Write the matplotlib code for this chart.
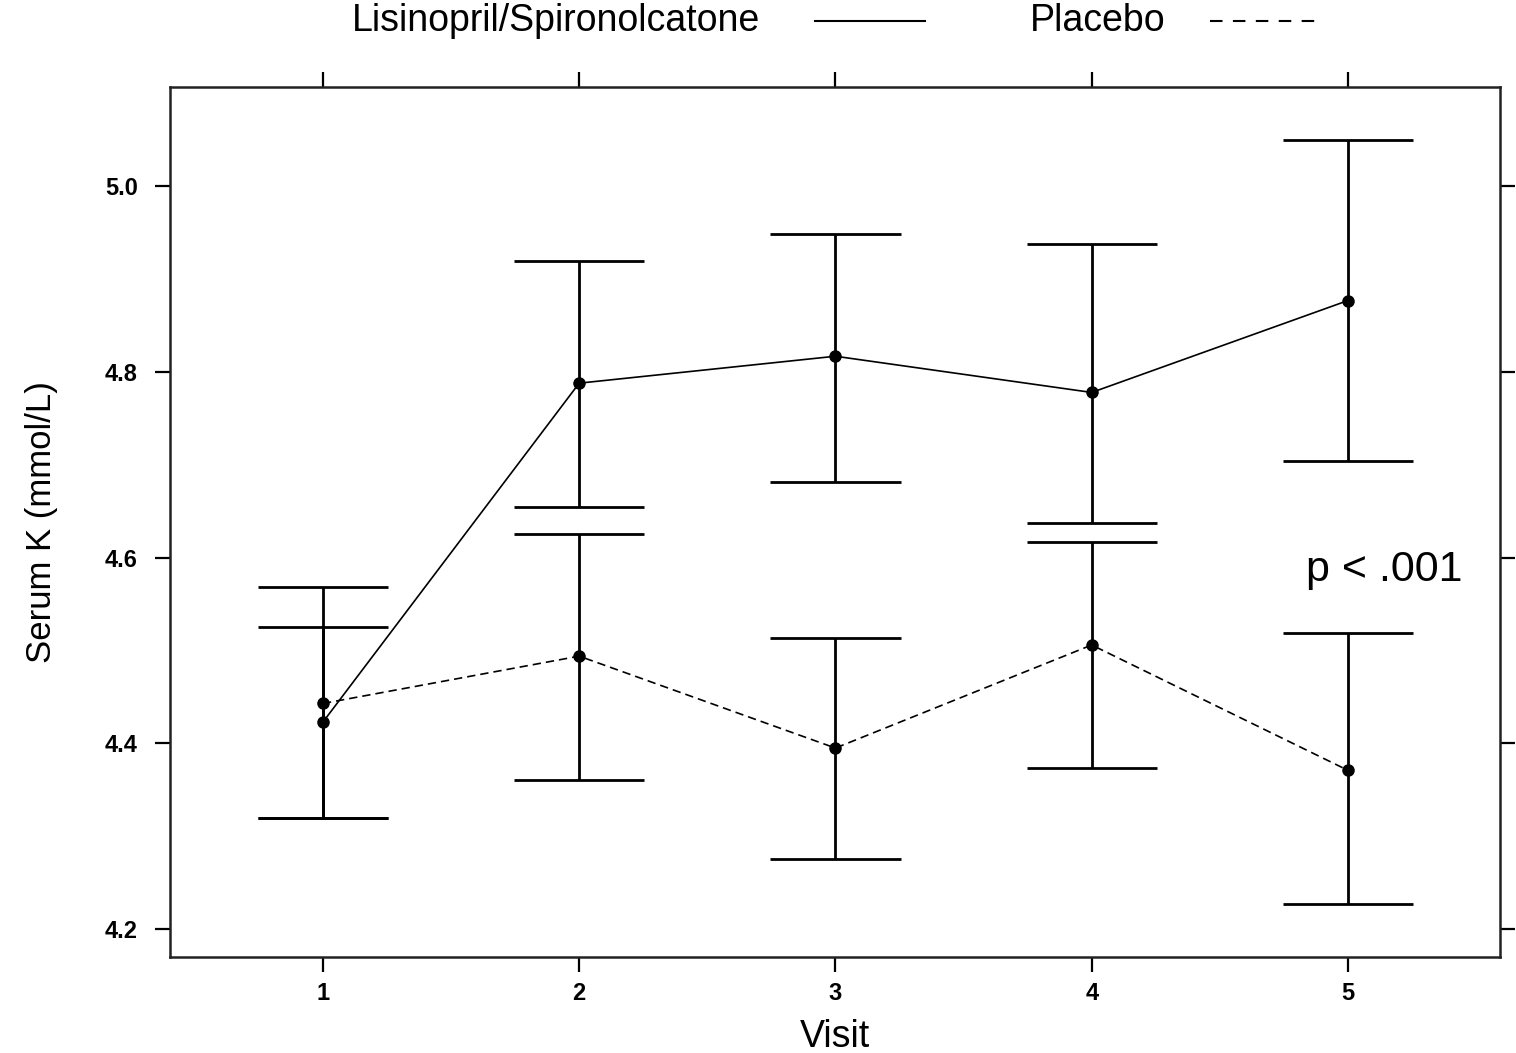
import matplotlib
matplotlib.use("Agg")
import matplotlib.pyplot as plt
from matplotlib.lines import Line2D

plt.rcParams["font.family"] = ["Liberation Sans", "DejaVu Sans"]

visits = [1, 2, 3, 4, 5]

# Lisinopril/Spironolactone group (solid line)
lis_mean = [4.423, 4.788, 4.817, 4.778, 4.877]
lis_lower = [4.320, 4.655, 4.682, 4.637, 4.704]
lis_upper = [4.525, 4.920, 4.949, 4.938, 5.050]

# Placebo group (dashed line)
pla_mean = [4.443, 4.494, 4.395, 4.506, 4.371]
pla_lower = [4.320, 4.361, 4.275, 4.373, 4.227]
pla_upper = [4.568, 4.626, 4.513, 4.617, 4.519]

y_ticks = [4.2, 4.4, 4.6, 4.8, 5.0]
y_tick_labels = ["4.2", "4.4", "4.6", "4.8", "5.0"]

legend_labels = ["Lisinopril/Spironolcatone", "Placebo"]
p_text = "p < .001"

fig = plt.figure(figsize=(15.16, 10.53), dpi=100)
ax = fig.add_axes([0.1121, 0.0912, 0.8773, 0.8262])

cap_half = 0.254
for means, lows, highs, ls in [
    (lis_mean, lis_lower, lis_upper, "-"),
    (pla_mean, pla_lower, pla_upper, (0, (5, 3))),
]:
    ax.vlines(visits, lows, highs, color="black", lw=2)
    for v, lo, hi in zip(visits, lows, highs):
        ax.hlines([lo, hi], v - cap_half, v + cap_half, color="black", lw=2)
    ax.plot(visits, means, color="black", lw=1.2, linestyle=ls)
    ax.plot(visits, means, "o", color="black", ms=8)

ax.set_xlim(0.403, 5.593)
ax.set_ylim(4.170, 5.107)
ax.set_xticks(visits)
ax.set_xticklabels([str(v) for v in visits], fontsize=17, fontweight="bold")
ax.set_yticks(y_ticks)
ax.set_yticklabels(y_tick_labels, fontsize=17, fontweight="bold")
ax.tick_params(axis="both", direction="out", length=11, width=1.6,
               top=True, right=True, labeltop=False, labelright=False)
ax.tick_params(axis="x", pad=7)
ax.tick_params(axis="y", pad=12)

for s in ax.spines.values():
    s.set_linewidth(1.8)
    s.set_color("#222222")

ax.set_xlabel("Visit", fontsize=27, labelpad=10)
ax.set_ylabel("Serum K (mmol/L)", fontsize=25, labelpad=34)

ax.text(5.14, 4.587, p_text, fontsize=31, ha="center", va="center")

# legend above the panel
fig.text(352 / 1516, 1 - 21 / 1053, legend_labels[0], fontsize=27,
         ha="left", va="center")
fig.add_artist(Line2D([815 / 1516, 925 / 1516], [1 - 21 / 1053] * 2,
                      color="black", lw=1.5, transform=fig.transFigure))
fig.text(1030 / 1516, 1 - 21 / 1053, legend_labels[1], fontsize=27,
         ha="left", va="center")
fig.add_artist(Line2D([1210 / 1516, 1320 / 1516], [1 - 21 / 1053] * 2,
                      color="black", lw=1.5, linestyle=(0, (6, 5)),
                      transform=fig.transFigure))

fig.savefig("out.png", dpi=100)
